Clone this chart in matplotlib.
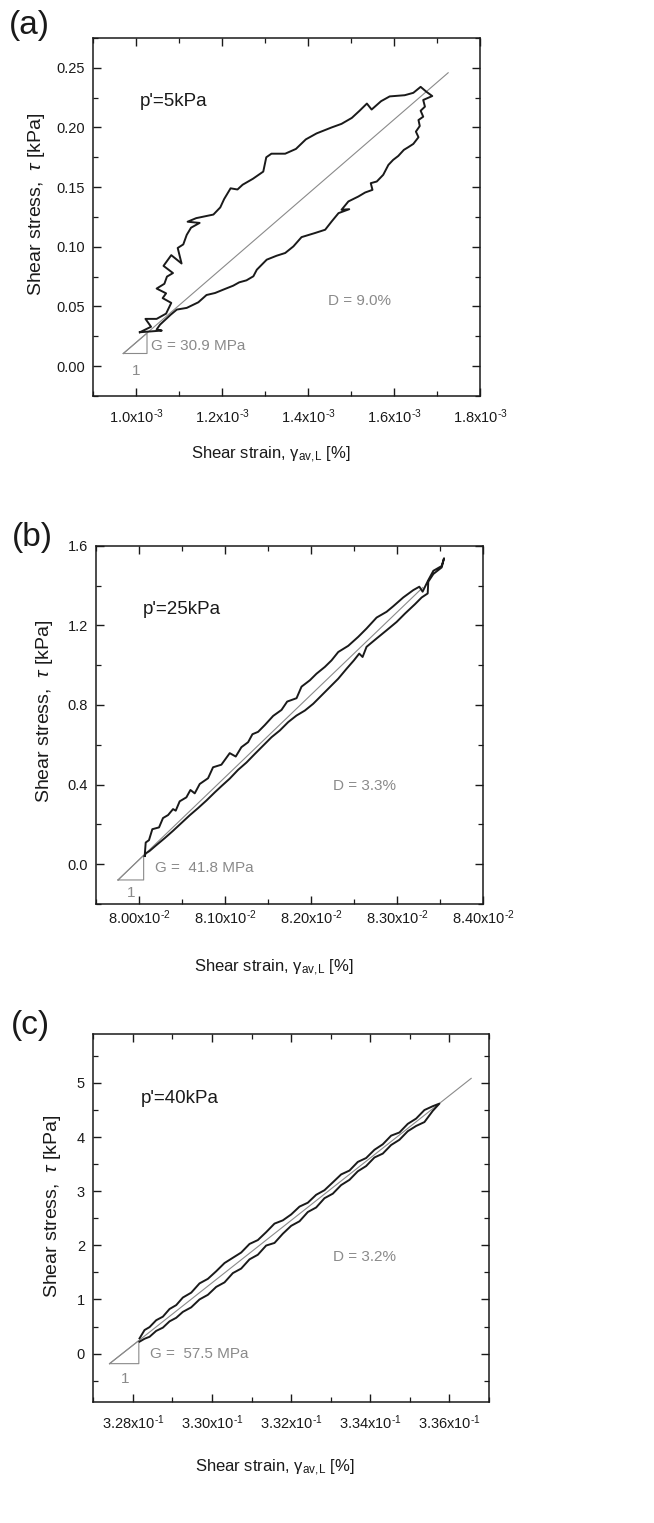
import matplotlib
matplotlib.use("Agg")
import matplotlib.pyplot as plt
import numpy as np
from matplotlib.ticker import MultipleLocator, FuncFormatter

plt.rcParams['font.family'] = ['Liberation Sans', 'DejaVu Sans']
plt.rcParams['mathtext.fontset'] = 'custom'
plt.rcParams['mathtext.rm'] = 'Liberation Sans'
plt.rcParams['mathtext.it'] = 'Liberation Sans:italic'
plt.rcParams['axes.unicode_minus'] = False

# ---- data (strain in %, stress in kPa) ----
# (a) p'=5kPa, strain in units of 1e-3 %
strain_a = np.array([
    1.009, 1.035, 1.022, 1.048, 1.070, 1.082, 1.062, 1.070, 1.048, 1.066,
    1.072, 1.086, 1.064, 1.082, 1.106, 1.097, 1.110, 1.118, 1.128, 1.148,
    1.120, 1.140, 1.180, 1.196, 1.205, 1.220, 1.236, 1.248, 1.272, 1.296,
    1.303, 1.315, 1.347, 1.372, 1.395, 1.420, 1.455, 1.478, 1.502, 1.520,
    1.537, 1.548, 1.570, 1.590, 1.625, 1.645, 1.662, 1.675, 1.689,
    1.668, 1.672, 1.662, 1.668, 1.657, 1.660, 1.651, 1.657, 1.645, 1.633,
    1.623, 1.610, 1.598, 1.587, 1.575, 1.560, 1.546, 1.550, 1.533, 1.517,
    1.494, 1.478, 1.496, 1.471, 1.455, 1.440, 1.416, 1.385, 1.366, 1.347,
    1.327, 1.304, 1.281, 1.273, 1.257, 1.240, 1.226, 1.203, 1.184, 1.164,
    1.145, 1.118, 1.095, 1.081, 1.067, 1.056, 1.048, 1.060, 1.009]) * 1e-3
stress_a = np.array([
    0.0284, 0.033, 0.0396, 0.0396, 0.044, 0.053, 0.057, 0.061, 0.065, 0.069,
    0.075, 0.078, 0.084, 0.093, 0.086, 0.099, 0.102, 0.110, 0.116, 0.120,
    0.121, 0.124, 0.127, 0.133, 0.140, 0.149, 0.148, 0.152, 0.157, 0.163,
    0.175, 0.178, 0.178, 0.182, 0.190, 0.195, 0.200, 0.203, 0.208, 0.214,
    0.220, 0.215, 0.222, 0.226, 0.227, 0.229, 0.234, 0.230, 0.2263,
    0.223, 0.2174, 0.214, 0.209, 0.2062, 0.2012, 0.1965, 0.1918, 0.1862, 0.1834,
    0.1812, 0.1761, 0.1728, 0.1686, 0.1603, 0.1547, 0.1533, 0.1477, 0.1455, 0.1421,
    0.1380, 0.1310, 0.1315, 0.1282, 0.1212, 0.1143, 0.1115, 0.1081, 0.1003, 0.0948,
    0.0925, 0.0892, 0.0808, 0.0753, 0.0719, 0.0702, 0.0674, 0.0641, 0.0613, 0.0596,
    0.0535, 0.0488, 0.0474, 0.0432, 0.0385, 0.0348, 0.0307, 0.0298, 0.0284])

# (b) p'=25kPa, strain in units of 1e-2 %
strain_b = np.array([
    8.0066, 8.0078, 8.0116, 8.0155, 8.0233, 8.0279, 8.0338, 8.0396, 8.0427, 8.0473,
    8.0551, 8.0598, 8.0648, 8.0706, 8.0803, 8.0861, 8.0958, 8.1055, 8.1125, 8.1191,
    8.1269, 8.1319, 8.1385, 8.1463, 8.1560, 8.1657, 8.1723, 8.1832, 8.1890, 8.1987,
    8.2064, 8.2161, 8.2239, 8.2317, 8.2433, 8.2549, 8.2646, 8.2763, 8.2879, 8.2957,
    8.3073, 8.3190, 8.3260, 8.3298, 8.3364, 8.3423, 8.3520, 8.3547,
    8.3520, 8.3423, 8.3364, 8.3357, 8.3287, 8.3209, 8.3093, 8.2996, 8.2879, 8.2763,
    8.2646, 8.2600, 8.2561, 8.2499, 8.2414, 8.2317, 8.2220, 8.2123, 8.2026, 8.1929,
    8.1832, 8.1735, 8.1638, 8.1541, 8.1444, 8.1347, 8.1250, 8.1152, 8.1055, 8.0958,
    8.0881, 8.0784, 8.0687, 8.0590, 8.0493, 8.0396, 8.0299, 8.0202, 8.0124, 8.0078,
    8.0066]) * 1e-2
stress_b = np.array([
    0.042, 0.109, 0.121, 0.176, 0.185, 0.232, 0.247, 0.277, 0.269, 0.316,
    0.336, 0.373, 0.356, 0.403, 0.432, 0.487, 0.500, 0.558, 0.541, 0.588,
    0.613, 0.653, 0.665, 0.699, 0.745, 0.775, 0.817, 0.834, 0.892, 0.924,
    0.957, 0.991, 1.024, 1.066, 1.097, 1.142, 1.184, 1.239, 1.268, 1.296,
    1.340, 1.377, 1.394, 1.369, 1.427, 1.474, 1.498, 1.537,
    1.491, 1.458, 1.419, 1.360, 1.340, 1.306, 1.259, 1.217, 1.175, 1.134,
    1.092, 1.041, 1.058, 1.024, 0.982, 0.932, 0.890, 0.848, 0.806, 0.772,
    0.747, 0.714, 0.672, 0.638, 0.596, 0.554, 0.511, 0.474, 0.430, 0.392,
    0.361, 0.320, 0.282, 0.246, 0.207, 0.168, 0.131, 0.096, 0.067, 0.054,
    0.042])

# (c) p'=40kPa, strain in units of 1e-1 %
strain_c_up = np.array([
    3.28168, 3.28295, 3.28421, 3.28589, 3.28758, 3.28926, 3.29095, 3.29263, 3.29474, 3.29684,
    3.29895, 3.30105, 3.30316, 3.30526, 3.30737, 3.30947, 3.31158, 3.31368, 3.31579, 3.31789,
    3.32000, 3.32211, 3.32421, 3.32632, 3.32842, 3.33053, 3.33263, 3.33474, 3.33684, 3.33895,
    3.34105, 3.34316, 3.34526, 3.34737, 3.34947, 3.35158, 3.35368, 3.35579, 3.35747]) * 1e-1
stress_c_up = np.array([
    0.282, 0.436, 0.490, 0.617, 0.683, 0.824, 0.896, 1.036, 1.126, 1.297,
    1.381, 1.521, 1.673, 1.770, 1.867, 2.025, 2.097, 2.243, 2.401, 2.461,
    2.570, 2.715, 2.787, 2.933, 3.018, 3.163, 3.309, 3.381, 3.540, 3.612,
    3.764, 3.866, 4.025, 4.084, 4.243, 4.340, 4.498, 4.569, 4.617])
stress_c_down = np.array([
    0.221, 0.275, 0.311, 0.420, 0.480, 0.596, 0.662, 0.771, 0.855, 1.001,
    1.086, 1.232, 1.316, 1.487, 1.571, 1.741, 1.826, 1.996, 2.044, 2.214,
    2.360, 2.444, 2.615, 2.699, 2.870, 2.954, 3.112, 3.209, 3.367, 3.464,
    3.622, 3.694, 3.852, 3.949, 4.107, 4.204, 4.276, 4.483, 4.617])
strain_c = np.concatenate([strain_c_up, strain_c_up[::-1]])
stress_c = np.concatenate([stress_c_up, stress_c_down[::-1]])

# secant lines and slope triangles
secant_a = ([0.9705e-3, 1.726e-3], [0.0106, 0.2458])
secant_b = ([7.9756e-2, 8.33e-2], [-0.079, 1.39])
secant_c = ([3.2741e-1, 3.3655e-1], [-0.185, 5.083])
tri_a = ([0.9705e-3, 1.0256e-3, 1.0256e-3], [0.0106, 0.0106, 0.0276])
tri_b = ([7.9756e-2, 8.0054e-2, 8.0054e-2], [-0.079, -0.079, 0.045])
tri_c = ([3.2741e-1, 3.2815e-1, 3.2815e-1], [-0.185, -0.185, 0.241])

panels = [
    dict(tag='(a)', p='5kPa', G='G = 30.9 MPa', D='D = 9.0%',
         x=strain_a, y=stress_a, sec=secant_a, tri=tri_a,
         xlim=(0.9e-3, 1.8e-3), ylim=(-0.025, 0.275),
         xmaj=0.2e-3, xmin=0.1e-3, ymaj=0.05, ymin=0.025,
         scale=1e-3, exp='3', xfmt='{:.1f}', yfmt='{:.2f}',
         pos=[0.1422, 0.7400, 0.5917, 0.2351], tagpos=(0.013, 0.9934),
         ptxt=(1.0078e-3, 0.2216), gtxt=(1.034e-3, 0.0167), one=(1.0e-3, -0.004),
         dtxt=(1.447e-3, 0.0544), pad=8, ylab=(-0.119, 0.534), xlab=(0.46, -0.137)),
    dict(tag='(b)', p='25kPa', G='G =  41.8 MPa', D='D = 3.3%',
         x=strain_b, y=stress_b, sec=secant_b, tri=tri_b,
         xlim=(7.95e-2, 8.40e-2), ylim=(-0.2, 1.6),
         xmaj=0.1e-2, xmin=0.05e-2, ymaj=0.4, ymin=0.2,
         scale=1e-2, exp='2', xfmt='{:.2f}', yfmt='{:.1f}',
         pos=[0.1468, 0.4064, 0.5917, 0.2353], tagpos=(0.018, 0.6573),
         ptxt=(8.0039e-2, 1.281), gtxt=(8.019e-2, -0.017), one=(7.991e-2, -0.143),
         dtxt=(8.2258e-2, 0.395), pad=3, ylab=(-0.106, 0.537), xlab=(0.46, -0.151)),
    dict(tag='(c)', p='40kPa', G='G =  57.5 MPa', D='D = 3.2%',
         x=strain_c, y=stress_c, sec=secant_c, tri=tri_c,
         xlim=(3.27e-1, 3.37e-1), ylim=(-0.9, 5.9),
         xmaj=0.02e-1, xmin=0.01e-1, ymaj=1, ymin=0.5,
         scale=1e-1, exp='1', xfmt='{:.2f}', yfmt='{:.0f}',
         pos=[0.1427, 0.0792, 0.6050, 0.2418], tagpos=(0.016, 0.3368),
         ptxt=(3.28211e-1, 4.713), gtxt=(3.2844e-1, -0.012), one=(3.2781e-1, -0.462),
         dtxt=(3.3305e-1, 1.787), pad=8, ylab=(-0.077, 0.533), xlab=(0.459, -0.149)),
]

fig = plt.figure(figsize=(6.54, 15.23), dpi=100)
grey = '#8a8a8a'
ink = '#1a1a1a'

for pn in panels:
    ax = fig.add_axes(pn['pos'])
    ax.plot(pn['sec'][0], pn['sec'][1], color=grey, lw=0.8, zorder=2)
    tx, ty = pn['tri']
    ax.plot(list(tx) + [tx[0]], list(ty) + [ty[0]], color=grey, lw=0.8, zorder=2)
    ax.plot(pn['x'], pn['y'], color=ink, lw=1.4, zorder=3)

    ax.set_xlim(*pn['xlim'])
    ax.set_ylim(*pn['ylim'])
    ax.xaxis.set_major_locator(MultipleLocator(pn['xmaj']))
    ax.xaxis.set_minor_locator(MultipleLocator(pn['xmin']))
    ax.yaxis.set_major_locator(MultipleLocator(pn['ymaj']))
    ax.yaxis.set_minor_locator(MultipleLocator(pn['ymin']))
    sc, ex, xf, yf = pn['scale'], pn['exp'], pn['xfmt'], pn['yfmt']
    # hyphen (not a minus sign) in the exponent, as in the original
    ax.xaxis.set_major_formatter(FuncFormatter(
        lambda v, _, sc=sc, ex=ex, xf=xf: xf.format(v / sc) + r'x10$^{\text{-}' + ex + '}$'))
    ax.yaxis.set_major_formatter(FuncFormatter(lambda v, _, yf=yf: yf.format(v + 0.0)))
    ax.tick_params(which='both', direction='in', top=True, right=True,
                   colors=ink, labelsize=10.5)
    ax.tick_params(which='major', length=6, width=1.0)
    ax.tick_params(which='minor', length=3.5, width=0.9)
    ax.tick_params(axis='x', which='major', pad=pn['pad'])
    ax.tick_params(axis='y', which='major', pad=6)
    for s in ax.spines.values():
        s.set_linewidth(1.1)
        s.set_color(ink)

    ax.set_ylabel(r'Shear stress,  $\tau$ [kPa]', fontsize=14, color=ink)
    ax.yaxis.set_label_coords(*pn['ylab'])
    ax.set_xlabel(r'Shear strain, $\mathregular{\gamma_{av,\!L}}$ [%]', fontsize=12, color=ink)
    ax.xaxis.set_label_coords(*pn['xlab'])

    ax.text(pn['ptxt'][0], pn['ptxt'][1], "p'=" + pn['p'], fontsize=13.5, color=ink,
            ha='left', va='center')
    ax.text(pn['gtxt'][0], pn['gtxt'][1], pn['G'], fontsize=11, color=grey,
            ha='left', va='center')
    ax.text(pn['one'][0], pn['one'][1], '1', fontsize=11, color=grey,
            ha='center', va='center')
    ax.text(pn['dtxt'][0], pn['dtxt'][1], pn['D'], fontsize=11, color=grey,
            ha='left', va='center')

    fig.text(pn['tagpos'][0], pn['tagpos'][1], pn['tag'], fontsize=24, color=ink,
             ha='left', va='top')

fig.savefig('out.png', dpi=100)
